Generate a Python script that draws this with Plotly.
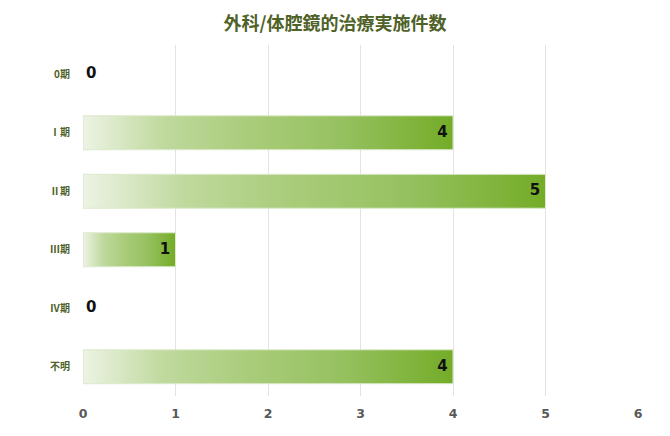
import plotly.graph_objs as go

title = "外科/体腔鏡的治療実施件数"
stages = ["0期", "Ⅰ期", "Ⅱ期", "Ⅲ期", "Ⅳ期", "不明"]
counts = [0, 4, 5, 1, 0, 4]

bar_w = 0.58
grad = [[0.0, "#edf3e4"], [0.22, "#bfd99d"], [0.45, "#a9cc7a"],
        [0.7, "#96c160"], [1.0, "#74ac28"]]
rows = list(range(len(stages)))

fig = go.Figure()

# gradient fill for each bar (plotly bars can't do gradients)
for i, v in enumerate(counts):
    if v <= 0:
        continue
    fig.add_trace(go.Scatter(
        x=[0, v, v, 0, 0],
        y=[i - bar_w / 2, i - bar_w / 2, i + bar_w / 2, i + bar_w / 2, i - bar_w / 2],
        mode="lines", fill="toself",
        fillgradient=dict(type="horizontal", colorscale=grad),
        line=dict(color="#dce9cb", width=1),
        hoverinfo="skip", showlegend=False))

# value labels: inside end of bar, or just right of zero
fig.add_trace(go.Scatter(
    x=counts, y=rows, mode="text",
    text=[("%d " % c) if c > 0 else ("\u2009%d" % c) for c in counts],
    textposition=["middle left" if c > 0 else "middle right" for c in counts],
    textfont=dict(family="DejaVu Sans", size=15, color="#111111", weight="bold"),
    cliponaxis=False, hoverinfo="skip", showlegend=False))

# page body has an 8px margin, so margins are shifted to compensate
fig.update_layout(
    width=670, height=436,
    paper_bgcolor="white", plot_bgcolor="white",
    margin=dict(l=75, r=40, t=37, b=48),
    title=dict(text="<b>" + title + "</b>", x=0.488, xanchor="center",
               y=0.963, yanchor="middle",
               font=dict(family="Noto Sans CJK JP", size=18, color="#4f6228")),
    xaxis=dict(range=[0, 6], dtick=1, showgrid=True, gridcolor="#e3e3e3",
               gridwidth=1, zeroline=False, showline=False, ticks="",
               automargin=False, ticklabelstandoff=8,
               tickfont=dict(family="DejaVu Sans", size=12.5, color="#595959", weight="bold")),
    yaxis=dict(tickvals=rows, ticktext=stages,
               range=[len(stages) - 0.5, -0.5], showgrid=False, zeroline=False,
               showline=False, ticks="", ticklabelstandoff=12, automargin=False,
               tickfont=dict(family="Noto Sans CJK JP", size=10, color="#4f6228", weight="bold")),
)

fig.write_html("out.html")
